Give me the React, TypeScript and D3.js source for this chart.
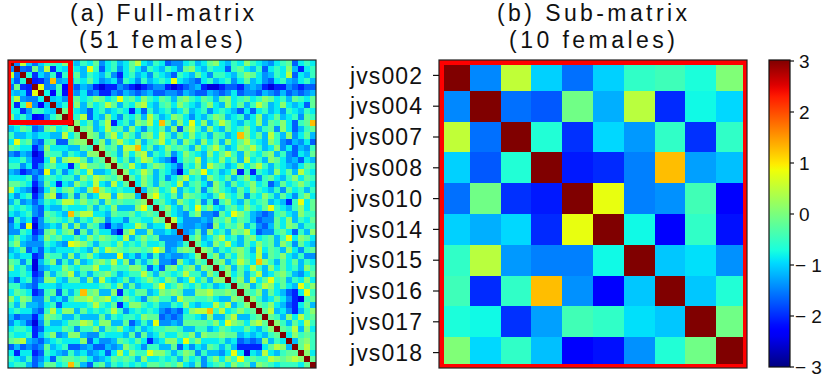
import React from "react";
import * as d3 from "d3";

// ---------- data ----------
const SUB_LABELS = ["jvs002", "jvs004", "jvs007", "jvs008", "jvs010", "jvs014", "jvs015", "jvs016", "jvs017", "jvs018"];

// 10x10 sub-matrix
const SUB_VALUES: number[][] = [
  [3, -1.45, 0.5, -1.02, -1.59, -1.02, -0.55, -0.45, -0.7, 0.03],
  [-1.45, 3, -1.59, -1.73, -0.08, -1.22, 0.45, -2.0, -0.78, -0.98],
  [0.5, -1.59, 3, -0.66, -1.97, -0.98, -1.35, -0.55, -1.97, -0.55],
  [-1.02, -1.73, -0.66, 3, -2.11, -2.01, -1.5, 1.25, -1.31, -1.12],
  [-1.59, -0.08, -1.97, -2.11, 3, 0.79, -1.5, -1.4, -0.43, -2.3],
  [-1.02, -1.22, -0.98, -2.01, 0.79, 3, -0.78, -2.3, -0.55, -2.16],
  [-0.55, 0.45, -1.35, -1.5, -1.5, -0.78, 3, -1.08, -0.93, -1.4],
  [-0.45, -2.0, -0.55, 1.25, -1.4, -2.3, -1.08, 3, -1.08, -0.66],
  [-0.7, -0.78, -1.97, -1.31, -0.43, -0.55, -0.93, -1.08, 3, -0.08],
  [0.03, -0.98, -0.55, -1.12, -2.3, -2.16, -1.4, -0.66, -0.08, 3],
];

// colour codes (upper triangle)
const CODE_VALUES: Record<string, number> = {
  "0": -2.5, "1": -2.05, "2": -1.7, "3": -1.4, "4": -1.15, "5": -0.85,
  "6": -0.5, "7": -0.2, "8": 0.1, "9": 0.45, "Y": 0.8, "O": 1.25,
};

// rows 0-9: columns 10..50 ; rows >= 10: columns i+1..50
const UPPER_ROWS: string[] = [
  "54657" + "35645" + "79546" + "52335" + "64578" + "54658" + "65435" + "67256" + "5",
  "654Y6" + "25635" + "75365" + "46537" + "85465" + "52675" + "46256" + "58415" + "6",
  "57465" + "46315" + "64536" + "54265" + "47536" + "65468" + "75346" + "59254" + "6",
  "46575" + "34526" + "53645" + "65Y54" + "32564" + "56357" + "45325" + "64356" + "4",
  "32431" + "01132" + "10123" + "31012" + "34100" + "12213" + "43101" + "13212" + "2",
  "43523" + "11324" + "32342" + "23324" + "32243" + "23523" + "32432" + "42323" + "4",
  "67568" + "756Y6" + "75865" + "76478" + "65764" + "78567" + "56875" + "64765" + "7",
  "58475" + "69746" + "58954" + "67586" + "54685" + "48574" + "69745" + "85452" + "7",
  "65425" + "64565" + "15264" + "56457" + "45635" + "65425" + "25645" + "36546" + "5",
  "56925" + "48536" + "57496" + "45875" + "35468" + "74563" + "58457" + "45637" + "6",
  /* 10 */ "8574" + "69156" + "48795" + "O7485" + "Y5846" + "97546" + "58476" + "85267" + "O",
  /* 11 */ "784" + "59674" + "85365" + "74827" + "96485" + "47568" + "54673" + "85246" + "7",
  /* 12 */ "87" + "47958" + "64785" + "96475" + "85647" + "645O8" + "57496" + "48357" + "4",
  /* 13 */ "6" + "84796" + "58467" + "95748" + "64857" + "48579" + "65486" + "32435" + "2",
  /* 14 */ "86749" + "9O574" + "58676" + "48579" + "64587" + "96458" + "35243" + "6",
  /* 15 */ "7648" + "58946" + "57358" + "65485" + "79648" + "65784" + "63254" + "7",
  /* 16 */ "857" + "46985" + "43157" + "69465" + "85749" + "56487" + "53425" + "4",
  /* 17 */ "76" + "95468" + "75426" + "58497" + "64585" + "79646" + "54357" + "6",
  /* 18 */ "8" + "56974" + "65305" + "87Y56" + "45816" + "16548" + "57496" + "5",
  /* 19 */ "75864" + "63579" + "56486" + "57468" + "53675" + "46857" + "6",
  /* 20 */ "5864" + "76594" + "67538" + "64756" + "85624" + "75686" + "5",
  /* 21 */ "478" + "56946" + "57368" + "65475" + "86546" + "37564" + "6",
  /* 22 */ "8Y" + "65748" + "76546" + "96573" + "65864" + "75368" + "5",
  /* 23 */ "6" + "75486" + "57362" + "68547" + "56745" + "416Y5" + "7",
  /* 24 */ "68547" + "5Y685" + "46758" + "657Y6" + "54685" + "7",
  /* 25 */ "7543" + "68332" + "75Y86" + "43236" + "75486" + "6",
  /* 26 */ "953" + "33437" + "68576" + "42337" + "58465" + "7",
  /* 27 */ "43" + "34328" + "57684" + "63247" + "58746" + "6",
  /* 28 */ "3" + "47385" + "64879" + "52336" + "75264" + "8",
  /* 29 */ "68457" + "95647" + "85674" + "6Y587" + "5",
  /* 30 */ "7548" + "69547" + "58674" + "86375" + "4",
  /* 31 */ "874" + "65786" + "49576" + "48536" + "7",
  /* 32 */ "68" + "47586" + "59476" + "85463" + "3",
  /* 33 */ "7" + "84697" + "5O864" + "75746" + "5",
  /* 34 */ "68475" + "96485" + "75648" + "6",
  /* 35 */ "8574" + "69457" + "86435" + "7",
  /* 36 */ "684" + "957Y6" + "74658" + "5",
  /* 37 */ "78" + "46985" + "754Y6" + "8",
  /* 38 */ "7" + "68475" + "4215Y" + "6",
  /* 39 */ "86457" + "53106" + "7",
  /* 40 */ "7685" + "42157" + "4",
  /* 41 */ "794" + "53146" + "8",
  /* 42 */ "76485967",
  /* 43 */ "8647596",
  /* 44 */ "769485",
  /* 45 */ "58676",
  /* 46 */ "4786",
  /* 47 */ "796",
  /* 48 */ "85",
  /* 49 */ "7",
];

const CBAR_TICKS = [3, 2, 1, 0, -1, -2, -3];
const N = 51;
const DIAG = 3;

// ---------- build full matrix ----------
function buildMatrix(): number[][] {
  const m: number[][] = Array.from({ length: N }, () => new Array(N).fill(0));
  for (let i = 0; i < N; i++) {
    m[i][i] = DIAG;
    const row = UPPER_ROWS[i] || "";
    const start = i < 10 ? 10 : i + 1;
    for (let j = start; j < N; j++) {
      const ch = row[j - start];
      const v = ch !== undefined && CODE_VALUES[ch] !== undefined ? CODE_VALUES[ch] : -0.6;
      m[i][j] = v;
      m[j][i] = v;
    }
  }
  for (let i = 0; i < 10; i++) for (let j = 0; j < 10; j++) m[i][j] = SUB_VALUES[i][j];
  return m;
}

// matplotlib "jet"
const jetR = d3.scaleLinear<number>().domain([0, 0.35, 0.66, 0.89, 1]).range([0, 0, 1, 1, 0.5]).clamp(true);
const jetG = d3.scaleLinear<number>().domain([0, 0.125, 0.375, 0.64, 0.91, 1]).range([0, 0, 1, 1, 0, 0]).clamp(true);
const jetB = d3.scaleLinear<number>().domain([0, 0.11, 0.34, 0.65, 1]).range([0.5, 1, 1, 0, 0]).clamp(true);
function jet(t: number): string {
  return d3.rgb(jetR(t) * 255, jetG(t) * 255, jetB(t) * 255).formatHex();
}
const norm = d3.scaleLinear().domain([-3, 3]).range([0, 1]).clamp(true);
const color = (v: number) => jet(norm(v));

const FONT = "'Liberation Sans', Arial, Helvetica, sans-serif";

export default function App() {
  const M = buildMatrix();

  const L = { x: 8, y: 60, size: 308 };
  const R = { x: 439, y: 60, size: 308 };
  const CB = { x: 769, y: 60, w: 21, h: 307 };

  const xl = d3.scaleBand<number>().domain(d3.range(N)).range([L.x, L.x + L.size]);
  const yl = d3.scaleBand<number>().domain(d3.range(N)).range([L.y, L.y + L.size]);
  const xr = d3.scaleBand<number>().domain(d3.range(10)).range([R.x, R.x + R.size]);
  const yr = d3.scaleBand<number>().domain(d3.range(10)).range([R.y, R.y + R.size]);
  const cbY = d3.scaleLinear().domain([-3, 3]).range([CB.y + CB.h, CB.y + 1]);

  const stops = d3.range(0, 1.0001, 0.02);

  return (
    <svg width={830} height={380} style={{ position: "absolute", left: 0, top: 0, background: "#fff" }}
      fontFamily={FONT}>
      <defs>
        <clipPath id="clipL"><rect x={L.x} y={L.y} width={L.size} height={L.size} /></clipPath>
        <clipPath id="clipR"><rect x={R.x} y={R.y} width={R.size} height={R.size} /></clipPath>
        <linearGradient id="cbgrad" x1="0" y1="1" x2="0" y2="0">
          {stops.map((t) => (
            <stop key={t} offset={t} stopColor={jet(t)} />
          ))}
        </linearGradient>
      </defs>

      {/* titles */}
      <g fill="#111" fontSize={23} textAnchor="middle">
        <text x={162} y={21} textLength={184} lengthAdjust="spacing">(a) Full-matrix</text>
        <text x={161} y={48} textLength={164} lengthAdjust="spacing">(51 females)</text>
        <text x={592} y={21} textLength={190} lengthAdjust="spacing">(b) Sub-matrix</text>
        <text x={592} y={48} textLength={166} lengthAdjust="spacing">(10 females)</text>
      </g>

      {/* left full matrix */}
      <g clipPath="url(#clipL)" shapeRendering="crispEdges">
        {M.map((row, i) =>
          row.map((v, j) => (
            <rect key={`l${i}-${j}`} x={xl(j)} y={yl(i)} width={xl.bandwidth() + 0.5} height={yl.bandwidth() + 0.5} fill={color(v)} />
          ))
        )}
        <rect x={L.x} y={L.y} width={xl.bandwidth() * 10.4} height={yl.bandwidth() * 10.4}
          fill="none" stroke="#ff0000" strokeWidth={5} />
      </g>
      <rect x={L.x} y={L.y} width={L.size} height={L.size} fill="none" stroke="#222" strokeWidth={1.2} />

      {/* right sub matrix */}
      <g clipPath="url(#clipR)" shapeRendering="crispEdges">
        {SUB_VALUES.map((row, i) =>
          row.map((v, j) => (
            <rect key={`r${i}-${j}`} x={xr(j)} y={yr(i)} width={xr.bandwidth() + 0.5} height={yr.bandwidth() + 0.5} fill={color(v)} />
          ))
        )}
        <rect x={R.x} y={R.y} width={R.size} height={R.size} fill="none" stroke="#ff0000" strokeWidth={9} />
      </g>
      <rect x={R.x} y={R.y} width={R.size} height={R.size} fill="none" stroke="#222" strokeWidth={1.2} />

      {/* row labels */}
      <g fontSize={23} fill="#111" textAnchor="end">
        {SUB_LABELS.map((lab, i) => {
          const cy = (yr(i) as number) + yr.bandwidth() / 2;
          return (
            <g key={lab}>
              <line x1={R.x - 6} x2={R.x} y1={cy} y2={cy} stroke="#111" strokeWidth={1.2} />
              <text x={422} y={cy} dy="0.36em" textLength={72} lengthAdjust="spacing">{lab}</text>
            </g>
          );
        })}
      </g>

      {/* colorbar */}
      <rect x={CB.x} y={CB.y} width={CB.w} height={CB.h} fill="url(#cbgrad)" />
      <rect x={CB.x} y={CB.y} width={CB.w} height={CB.h} fill="none" stroke="#111" strokeWidth={1.2} />
      <g fontSize={19} fill="#111">
        {CBAR_TICKS.map((t) => {
          const y = cbY(t);
          const neg = t < 0;
          return (
            <g key={t}>
              <line x1={CB.x + CB.w} x2={CB.x + CB.w + 4} y1={y} y2={y} stroke="#111" strokeWidth={1.2} />
              <text x={neg ? 795 : 799} y={y} dy="0.36em">{neg ? `\u2212 ${Math.abs(t)}` : `${t}`}</text>
            </g>
          );
        })}
      </g>
    </svg>
  );
}
